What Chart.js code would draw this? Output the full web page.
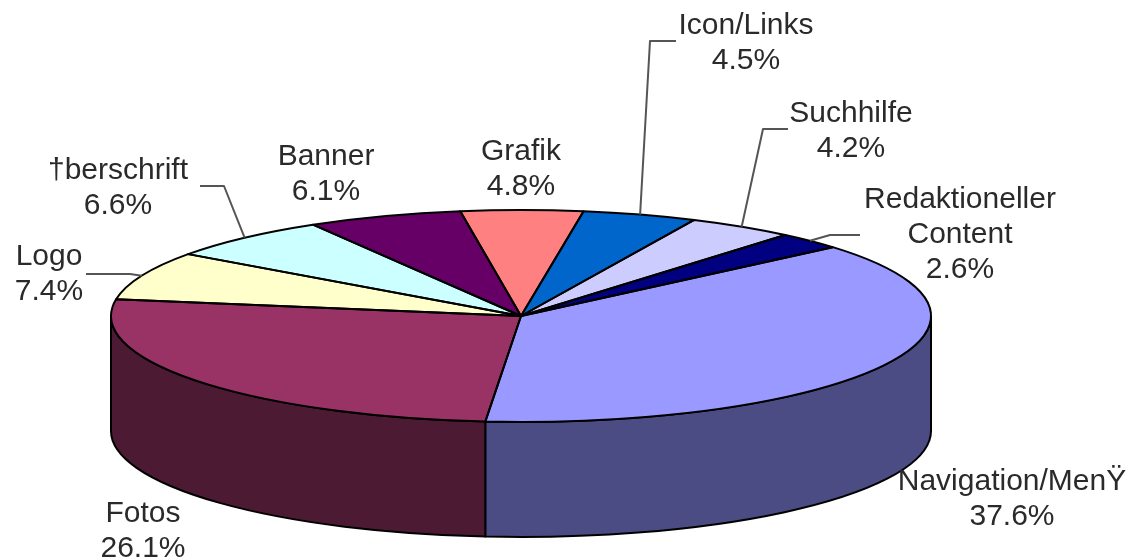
<!DOCTYPE html>
<html>
<head>
<meta charset="utf-8">
<style>html,body{margin:0;padding:0;background:#fff}#w{width:1134px;height:560px}canvas{display:block}</style>
<script src="https://cdn.jsdelivr.net/npm/chart.js@4"></script>
</head>
<body>
<div id="w"><canvas id="c" width="1134" height="560"></canvas></div>
<script>
const categories = ["Navigation/MenŸ","Fotos","Logo","†berschrift","Banner","Grafik","Icon/Links","Suchhilfe","Redaktioneller Content"];
const values = [37.6,26.1,7.4,6.6,6.1,4.8,4.5,4.2,2.6];
const faceColors = ["#9999FF","#993366","#FFFFCC","#CCFFFF","#660066","#FF8080","#0066CC","#CCCCFF","#000080"];
const wallColors = ["#4C4C85","#4D1A33","#80806A","#6A8080","#330033","#804040","#003366","#6A6A80","#000040"];
// label layout: centre x, first-line baseline y
const labelX = [1012,143,49,118,326,521,746,851,960];
const labelY = [490,522,265,179,165,160,34,122,208];
// leader elbows: text end x, elbow x, shared y — the rim end comes from the slice itself
const leaders = [null,null,[86,130],[200,224],null,null,[676,650],[788,763],[860,830]];
const leaderY = [0,0,274,186,0,0,41,129,235];
const lineHeight = 35, fontPx = 30;
const pie = {cx:521, cy:316, rx:410, ry:106, depth:115};

const project = {
  id:'project',
  beforeDatasetsDraw(chart){
    const ctx = chart.ctx, arcs = chart.getDatasetMeta(0).data;
    // side wall, only the part facing the viewer
    arcs.forEach((a,i)=>{
      for(const k of [0,-2*Math.PI]){
        const s = Math.max(a.startAngle+k,0), e = Math.min(a.endAngle+k,Math.PI);
        if(e<=s) continue;
        ctx.beginPath();
        ctx.ellipse(pie.cx,pie.cy,pie.rx,pie.ry,0,s,e);
        ctx.ellipse(pie.cx,pie.cy+pie.depth,pie.rx,pie.ry,0,e,s,true);
        ctx.closePath();
        ctx.fillStyle = wallColors[i]; ctx.fill();
        ctx.strokeStyle='#000'; ctx.lineWidth=2; ctx.lineJoin='round'; ctx.stroke();
      }
    });
    const a0 = arcs[0], sx = pie.rx/a0.outerRadius, sy = pie.ry/a0.outerRadius;
    ctx.save();
    ctx.translate(pie.cx,pie.cy); ctx.scale(sx,sy); ctx.translate(-a0.x,-a0.y);
  },
  afterDatasetsDraw(chart){
    const ctx = chart.ctx, arcs = chart.getDatasetMeta(0).data;
    ctx.restore();
    // slice outlines
    ctx.strokeStyle='#000'; ctx.lineWidth=2; ctx.lineJoin='round';
    arcs.forEach(a=>{
      ctx.beginPath();
      ctx.moveTo(pie.cx,pie.cy);
      ctx.ellipse(pie.cx,pie.cy,pie.rx,pie.ry,0,a.startAngle,a.endAngle);
      ctx.closePath(); ctx.stroke();
    });
    // leaders
    ctx.strokeStyle='#555'; ctx.lineWidth=2;
    arcs.forEach((a,i)=>{
      if(!leaders[i]) return;
      const m=(a.startAngle+a.endAngle)/2;
      ctx.beginPath();
      ctx.moveTo(leaders[i][0],leaderY[i]);
      ctx.lineTo(leaders[i][1],leaderY[i]);
      ctx.lineTo(pie.cx+pie.rx*Math.cos(m),pie.cy+pie.ry*Math.sin(m));
      ctx.stroke();
    });
    // labels
    ctx.fillStyle='#2a2a2a'; ctx.textAlign='center'; ctx.textBaseline='alphabetic';
    ctx.font=fontPx+'px "Liberation Sans", Arial, sans-serif';
    categories.forEach((name,i)=>{
      const lines=name.split(' ').concat(values[i].toFixed(1)+'%');
      lines.forEach((t,j)=>ctx.fillText(t,labelX[i],labelY[i]+j*lineHeight));
    });
  }
};

new Chart(document.getElementById('c'),{
  type:'pie',
  data:{labels:categories,datasets:[{data:values,backgroundColor:faceColors,borderWidth:0,clip:false}]},
  options:{
    responsive:false,animation:false,rotation:49.5,
    layout:{padding:0},
    plugins:{legend:{display:false},tooltip:{enabled:false}},
    events:[]
  },
  plugins:[project]
});
</script>
</body>
</html>
